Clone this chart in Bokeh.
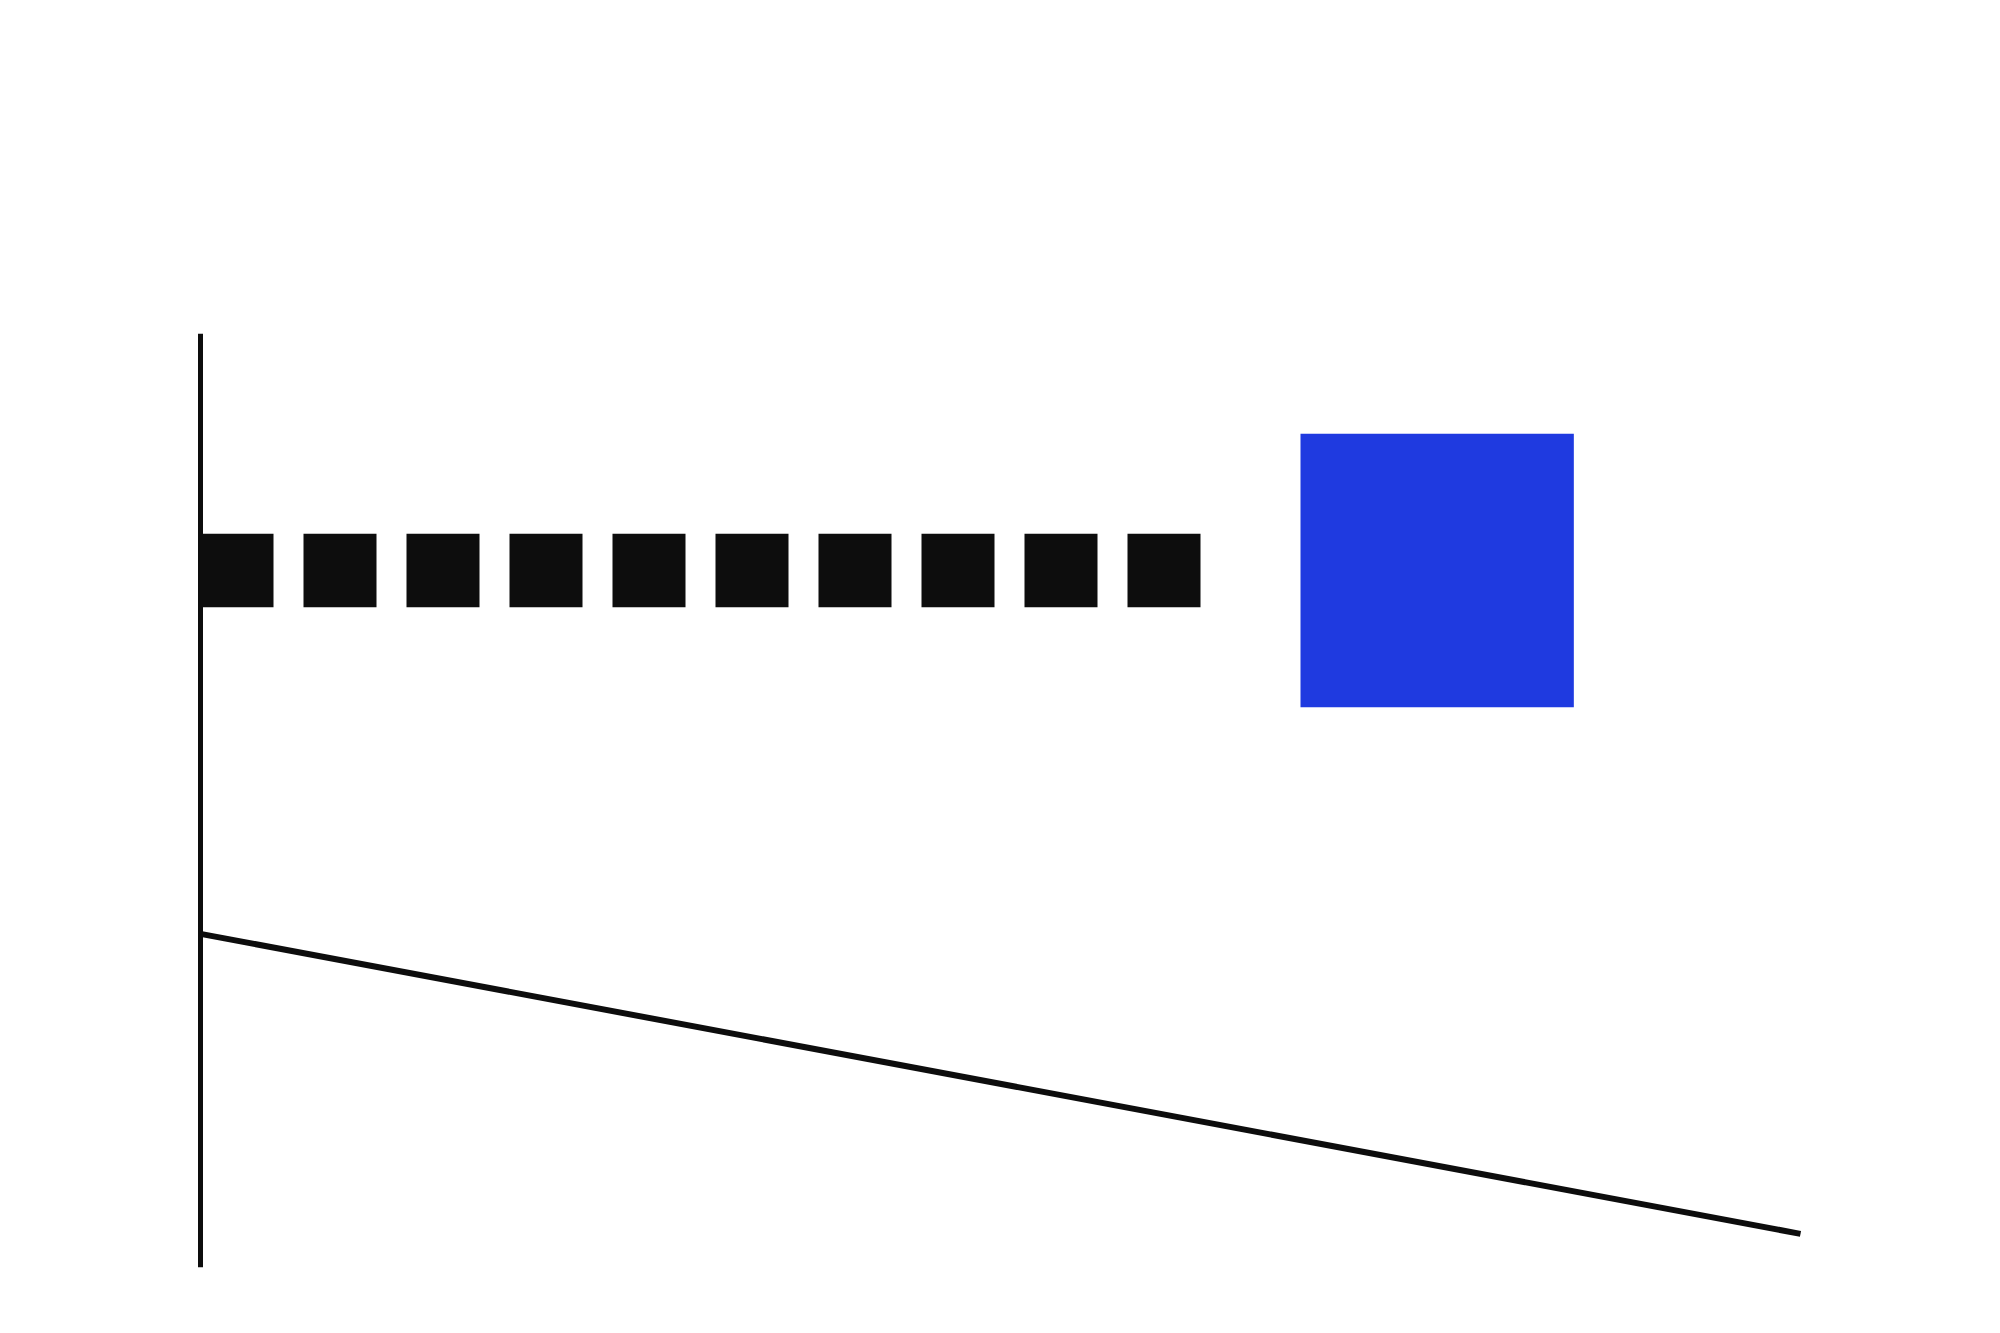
from bokeh.plotting import figure
from bokeh.models import Range1d
from bokeh.embed import file_html
from bokeh.resources import INLINE

# Scene data (units of a 600 x 400 canvas, y downwards)
axis_x = [60, 60]
axis_y = [100, 380]
dash_x = [60, 361]
dash_y = [171, 171]
square_x = [431]
square_y = [171]
square_side = [82]
slope_x = [60, 540]
slope_y = [280, 370]

SCALE = 2000 / 600.0
W, H = 1984, 1317
p = figure(width=W, height=H, output_backend="svg", toolbar_location=None,
           x_range=Range1d(0, W / SCALE),
           y_range=Range1d(H / SCALE, 0),
           min_border=0, background_fill_color="white",
           border_fill_color="white")
p.axis.visible = False
p.grid.visible = False
p.outline_line_color = None

ink = "#0d0d0d"
p.line(dash_x, dash_y, line_color=ink, line_width=22 * SCALE,
       line_dash="73 30", line_cap="butt")
p.rect(x=square_x, y=square_y, width=square_side, height=square_side,
       fill_color="#1f3ae0", line_color=None)
p.line(axis_x, axis_y, line_color=ink, line_width=1.5 * SCALE, line_cap="butt")
p.line(slope_x, slope_y, line_color=ink, line_width=1.8 * SCALE, line_cap="butt")

open("out.html", "w").write(file_html(p, INLINE))
